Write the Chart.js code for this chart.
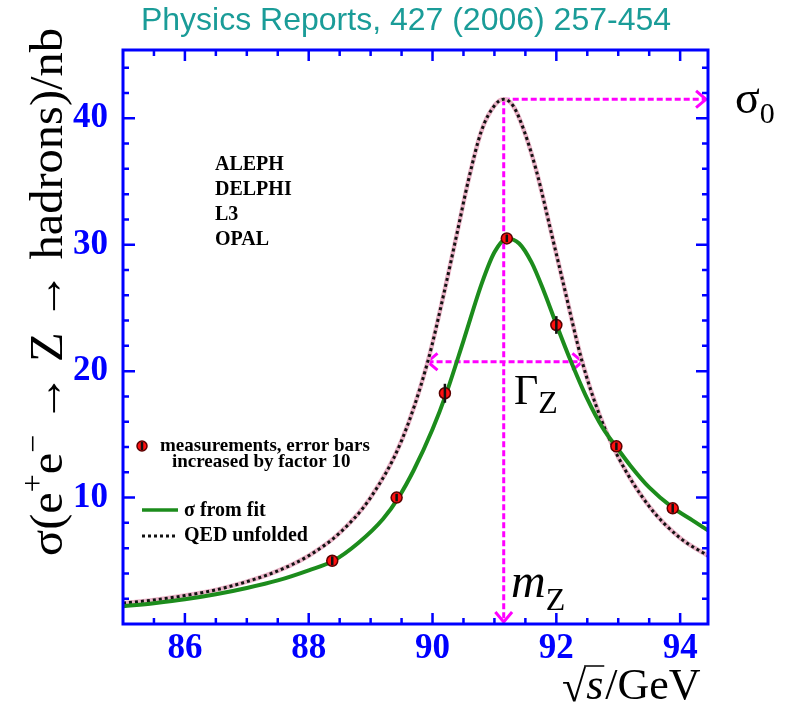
<!DOCTYPE html>
<html>
<head>
<meta charset="utf-8">
<script src="https://cdn.jsdelivr.net/npm/chart.js@4.4.0/dist/chart.umd.min.js"></script>
<style>
  html, body { margin: 0; padding: 0; background: #fff; }
</style>
</head>
<body>
<canvas id="chart" width="788" height="712"></canvas>
<script>
// LEP hadronic cross section around the Z pole
// measurements: sqrt(s) in GeV, sigma in nb, error bars already x10
const measX = [88.38, 89.42, 90.2, 91.2, 92.0, 92.97, 93.88];
const measY = [5.0, 10.0, 18.25, 30.5, 23.65, 14.05, 9.15];
const measErr = [0.35, 0.3, 0.75, 0.3, 0.7, 0.3, 0.35];

// sigma from fit (green)
const fitX = [85.0, 85.5, 86.0, 86.5, 87.0, 87.5, 88.0, 88.4, 88.8, 89.2, 89.45, 89.7, 90.0, 90.22, 90.5, 90.8, 91.0, 91.2, 91.4, 91.6, 91.8, 92.0, 92.2, 92.5, 92.75, 92.97, 93.2, 93.5, 93.88, 94.2, 94.45];
const fitY = [1.4, 1.65, 1.95, 2.35, 2.85, 3.45, 4.25, 5.0, 6.4, 8.3, 10.0, 12.2, 15.4, 18.2, 22.4, 27.0, 29.4, 30.5, 30.1, 28.6, 26.3, 23.7, 21.2, 17.8, 15.5, 14.0, 12.5, 10.8, 9.2, 8.2, 7.4];

// QED unfolded (dotted)
const qedX = [85.0, 85.5, 86.0, 86.5, 87.0, 87.5, 88.0, 88.5, 89.0, 89.5, 89.92, 90.2, 90.4, 90.58, 90.79, 91.0, 91.15, 91.3, 91.48, 91.68, 91.94, 92.1, 92.42, 92.7, 93.0, 93.5, 94.0, 94.45];
const qedY = [1.65, 1.9, 2.25, 2.7, 3.35, 4.2, 5.4, 7.2, 10.0, 14.5, 20.7, 26.5, 31.0, 35.1, 39.0, 41.0, 41.5, 41.0, 39.0, 35.8, 30.5, 27.2, 20.7, 16.5, 13.2, 9.3, 6.8, 5.4];

// tick labels / tick marks
const xMajor = [86, 88, 90, 92, 94];
const xMinor = [85.5, 86.5, 87, 87.5, 88.5, 89, 89.5, 90.5, 91, 91.5, 92.5, 93, 93.5, 94];
const yMajor = [10, 20, 30, 40];
const yMinor = [2, 4, 6, 8, 12, 14, 16, 18, 22, 24, 26, 28, 32, 34, 36, 38, 42, 44];

// lineshape parameters marked with arrows
const sigma0 = 41.5;
const mZ = 91.15;
const halfMax = 20.75;
const gammaLo = 89.92;
const gammaHi = 92.42;

const BLUE = '#0000ff';
const MAGENTA = '#ff00ff';
const GREEN = '#1c8c1c';
const SERIF = '"Liberation Serif", "Times New Roman", serif';

function pts(xs, ys) {
    return xs.map((x, i) => ({ x: x, y: ys[i] }));
}

function chevron(ctx, x, y, ang, size) {
    ctx.beginPath();
    ctx.moveTo(x - size * Math.cos(ang - 0.7), y - size * Math.sin(ang - 0.7));
    ctx.lineTo(x, y);
    ctx.lineTo(x - size * Math.cos(ang + 0.7), y - size * Math.sin(ang + 0.7));
    ctx.stroke();
}

// draws text pieces one after another: [text, font, dy]
function runText(ctx, x, y, pieces) {
    pieces.forEach(p => {
        ctx.font = p[1];
        ctx.fillText(p[0], x, y + (p[2] || 0));
        x += ctx.measureText(p[0]).width;
    });
}
function runWidth(ctx, pieces) {
    let w = 0;
    pieces.forEach(p => { ctx.font = p[1]; w += ctx.measureText(p[0]).width; });
    return w;
}

const annot = {
    id: 'annot',
    beforeDatasetsDraw(chart) {
        const ctx = chart.ctx, xs = chart.scales.x, ys = chart.scales.y;
        const px = xs.getPixelForValue(mZ), py = ys.getPixelForValue(sigma0);
        const ca = chart.chartArea;
        ctx.save();
        ctx.strokeStyle = MAGENTA;
        ctx.lineWidth = 3;
        ctx.setLineDash([6, 3]);
        ctx.beginPath();
        ctx.moveTo(px, py); ctx.lineTo(px, ys.getPixelForValue(0) - 2);
        ctx.moveTo(px, py); ctx.lineTo(ca.right - 2, py);
        const gy = ys.getPixelForValue(halfMax);
        ctx.moveTo(xs.getPixelForValue(gammaLo), gy);
        ctx.lineTo(xs.getPixelForValue(gammaHi), gy);
        ctx.stroke();
        ctx.setLineDash([]);
        chevron(ctx, px, ys.getPixelForValue(0) - 2, Math.PI / 2, 13);
        chevron(ctx, ca.right - 2, py, 0, 13);
        chevron(ctx, xs.getPixelForValue(gammaLo), gy, Math.PI, 13);
        chevron(ctx, xs.getPixelForValue(gammaHi), gy, 0, 13);
        ctx.restore();
    },
    afterDatasetsDraw(chart) {
        // error bars over the markers
        const ctx = chart.ctx, xs = chart.scales.x, ys = chart.scales.y;
        ctx.save();
        ctx.strokeStyle = '#111';
        ctx.lineWidth = 2.5;
        measX.forEach((x, i) => {
            const px = xs.getPixelForValue(x);
            const top = ys.getPixelForValue(measY[i] + measErr[i]);
            const bot = ys.getPixelForValue(measY[i] - measErr[i]);
            ctx.beginPath();
            ctx.moveTo(px, top); ctx.lineTo(px, bot);
            ctx.stroke();
        });
        ctx.restore();
    },
    afterDraw(chart) {
        const ctx = chart.ctx, xs = chart.scales.x, ys = chart.scales.y;
        const ca = chart.chartArea;
        ctx.save();

        // frame + inward ticks
        ctx.strokeStyle = BLUE;
        ctx.lineWidth = 3;
        ctx.strokeRect(ca.left, ca.top, ca.right - ca.left, ca.bottom - ca.top);
        ctx.lineWidth = 2.5;
        ctx.beginPath();
        const xt = (v, len) => {
            const p = xs.getPixelForValue(v);
            ctx.moveTo(p, ca.bottom); ctx.lineTo(p, ca.bottom - len);
            ctx.moveTo(p, ca.top); ctx.lineTo(p, ca.top + len);
        };
        const yt = (v, len) => {
            const p = ys.getPixelForValue(v);
            ctx.moveTo(ca.left, p); ctx.lineTo(ca.left + len, p);
            ctx.moveTo(ca.right, p); ctx.lineTo(ca.right - len, p);
        };
        xMajor.forEach(v => xt(v, 11));
        xMinor.forEach(v => xt(v, 6));
        yMajor.forEach(v => yt(v, 12));
        yMinor.forEach(v => yt(v, 6));
        ctx.stroke();

        // header
        ctx.fillStyle = '#1a9c98';
        ctx.font = '32px "Liberation Sans", Arial, sans-serif';
        ctx.textAlign = 'center';
        ctx.textBaseline = 'alphabetic';
        ctx.fillText('Physics Reports, 427 (2006) 257-454', 406, 30);
        ctx.textAlign = 'left';

        // experiments
        ctx.fillStyle = '#000';
        ctx.font = 'bold 20px ' + SERIF;
        ['ALEPH', 'DELPHI', 'L3', 'OPAL'].forEach((t, i) => ctx.fillText(t, 215, 170 + i * 25));

        // legend
        ctx.beginPath();
        ctx.arc(142, 446, 5, 0, Math.PI * 2);
        ctx.fillStyle = '#ff1010';
        ctx.fill();
        ctx.strokeStyle = '#5a0000';
        ctx.lineWidth = 1.5;
        ctx.stroke();
        ctx.strokeStyle = '#111';
        ctx.lineWidth = 2.5;
        ctx.beginPath(); ctx.moveTo(142, 442); ctx.lineTo(142, 450); ctx.stroke();
        ctx.fillStyle = '#000';
        ctx.font = 'bold 19px ' + SERIF;
        ctx.fillText('measurements, error bars', 160, 451);
        ctx.fillText('increased by factor 10', 172, 467);
        ctx.strokeStyle = GREEN;
        ctx.lineWidth = 3.5;
        ctx.beginPath(); ctx.moveTo(142, 510); ctx.lineTo(178, 510); ctx.stroke();
        ctx.font = 'bold 20px ' + SERIF;
        ctx.fillText('σ from fit', 184, 516);
        ctx.strokeStyle = '#111';
        ctx.lineWidth = 3;
        ctx.setLineDash([3, 3]);
        ctx.beginPath(); ctx.moveTo(142, 536); ctx.lineTo(178, 536); ctx.stroke();
        ctx.setLineDash([]);
        ctx.fillText('QED unfolded', 184, 541);

        // arrow labels
        ctx.fillStyle = '#000';
        runText(ctx, 735, 113, [['σ', '46px ' + SERIF], ['0', '30px ' + SERIF, 10]]);
        runText(ctx, 514, 404, [['Γ', '42px ' + SERIF], ['Z', '32px ' + SERIF, 9]]);
        runText(ctx, 511, 597, [['m', 'italic 48px ' + SERIF], ['Z', '32px ' + SERIF, 13]]);

        // x title
        ctx.font = '44px ' + SERIF;
        ctx.fillText('√', 562, 701);
        let xx = 562 + ctx.measureText('√').width;
        ctx.font = 'italic 44px ' + SERIF;
        const sw = ctx.measureText('s').width;
        ctx.fillText('s', xx, 699);
        ctx.strokeStyle = '#000';
        ctx.lineWidth = 1.5;
        ctx.beginPath(); ctx.moveTo(xx - 2, 666); ctx.lineTo(xx + sw + 1, 666); ctx.stroke();
        xx += sw + 2;
        ctx.font = '44px ' + SERIF;
        ctx.fillText('/GeV', xx, 699);

        // y title, rotated, stretched along the text to the reference length
        const fs = 47;
        const parts = [['σ(e', fs + 'px ' + SERIF], ['+', (fs * 0.66) + 'px ' + SERIF, -fs * 0.4],
                       ['e', fs + 'px ' + SERIF], ['−', (fs * 0.66) + 'px ' + SERIF, -fs * 0.4],
                       [' → Z → hadrons)/nb', fs + 'px ' + SERIF]];
        const k = 528 / runWidth(ctx, parts);
        ctx.translate(62, 556);
        ctx.rotate(-Math.PI / 2);
        ctx.scale(k, 1);
        runText(ctx, 0, 0, parts);
        ctx.restore();
    }
};

new Chart(document.getElementById('chart'), {
    type: 'line',
    data: {
        datasets: [
            { type: 'scatter', data: pts(measX, measY), pointRadius: 5.5, pointBackgroundColor: '#ff1010',
              pointBorderColor: '#5a0000', pointBorderWidth: 1.5, order: 0 },
            { data: pts(fitX, fitY), borderColor: GREEN, borderWidth: 4, pointRadius: 0,
              cubicInterpolationMode: 'monotone', order: 1 },
            { data: pts(qedX, qedY), borderColor: '#111', borderWidth: 3, borderDash: [3, 3], pointRadius: 0,
              cubicInterpolationMode: 'monotone', order: 2 },
            { data: pts(qedX, qedY), borderColor: '#e9b3c6', borderWidth: 4.5, pointRadius: 0,
              cubicInterpolationMode: 'monotone', order: 3 }
        ]
    },
    options: {
        responsive: false,
        animation: false,
        devicePixelRatio: 1,
        layout: { padding: { left: 0, right: 80, top: 50, bottom: 0 } },
        plugins: { legend: { display: false }, tooltip: { enabled: false } },
        scales: {
            x: {
                type: 'linear', min: 85, max: 94.45,
                grid: { display: false, drawTicks: false }, border: { display: false },
                afterBuildTicks: s => { s.ticks = xMajor.map(v => ({ value: v })); },
                afterFit: s => { s.height = 88; },
                ticks: { color: BLUE, font: { family: SERIF, size: 35, weight: 'bold' }, padding: 4,
                         maxRotation: 0, autoSkip: false }
            },
            y: {
                type: 'linear', min: 0, max: 45.4,
                grid: { display: false, drawTicks: false }, border: { display: false },
                afterBuildTicks: s => { s.ticks = yMajor.map(v => ({ value: v })); },
                afterFit: s => { s.width = 123; },
                ticks: { color: BLUE, font: { family: SERIF, size: 35, weight: 'bold' }, padding: 15 }
            }
        }
    },
    plugins: [annot]
});
</script>
</body>
</html>
